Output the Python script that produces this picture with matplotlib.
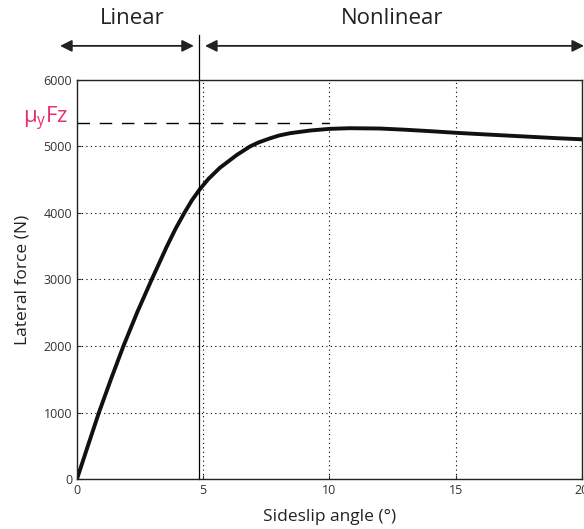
import numpy as np
import matplotlib
matplotlib.use("Agg")
import matplotlib.pyplot as plt

plt.rcParams['font.family'] = ['Open Sans', 'DejaVu Sans']
plt.rcParams['mathtext.fontset'] = 'custom'
plt.rcParams['mathtext.rm'] = 'Open Sans'
plt.rcParams['mathtext.it'] = 'Open Sans'

# curve
slip = [0, 0.40, 0.87, 1.35, 1.84, 2.40, 2.96, 3.55, 3.9, 4.25, 4.55, 4.85,
        5.2, 5.66, 6.32, 6.85, 7.2, 7.64, 8.0, 8.44, 9.23, 10.0, 10.8, 12,
        13, 14, 15, 16, 17, 18, 19, 20]
force = [0, 462, 1000, 1505, 2000, 2520, 3000, 3490, 3760, 4000, 4190, 4350,
         4510, 4680, 4870, 5000, 5062, 5122, 5165, 5200, 5240, 5265, 5275,
         5270, 5252, 5230, 5206, 5185, 5165, 5145, 5125, 5108]

mu_fz = 5357
limit = 4.85

fig = plt.figure(figsize=(5.84, 5.29), dpi=100)
ax = fig.add_axes([0.1318, 0.0945, 0.8648, 0.7543])

ax.plot(slip, force, color='#111111', lw=2.8, solid_capstyle='round',
        solid_joinstyle='round')

#mu*Fz level
ax.plot([0, 10], [mu_fz, mu_fz], color='black', lw=1, dashes=(9, 7))

#boundary between linear and nonlinear parts
ax.plot([limit, limit], [0, 6670], color='black', lw=0.9, clip_on=False)

ax.set_xlim(0, 20)
ax.set_ylim(0, 6000)
ax.set_xticks([0, 5, 10, 15, 20])
ax.set_yticks([0, 1000, 2000, 3000, 4000, 5000, 6000])
ax.grid(True, color='black', linestyle=(0, (1, 3)), lw=0.8)
ax.tick_params(direction='in', length=3, labelsize=9, colors='#333333')
for s in ax.spines.values():
    s.set_linewidth(1.0)
    s.set_color('#222222')

ax.set_xlabel('Sideslip angle (°)', fontsize=12.5, labelpad=9, color='#222222')
ax.set_ylabel('Lateral force (N)', fontsize=12.5, labelpad=9, color='#222222')

ax.text(-0.35, mu_fz + 60, r'$\mathrm{\mu_{y}Fz}$', color='#e8306a', fontsize=16,
        ha='right', va='center', clip_on=False)

#region arrows
arrow = dict(arrowstyle='<|-|>,head_width=0.35,head_length=0.7', color='#222222',
             lw=1.3, shrinkA=0, shrinkB=0)
ax.annotate('', xy=(-0.67, 6513), xytext=(4.63, 6513), arrowprops=arrow,
            annotation_clip=False)
ax.annotate('', xy=(5.07, 6513), xytext=(20.08, 6513), arrowprops=arrow,
            annotation_clip=False)
ax.text(2.2, 6920, 'Linear', fontsize=16, ha='center', va='center', color='#222222')
ax.text(12.5, 6920, 'Nonlinear', fontsize=16, ha='center', va='center', color='#222222')

fig.savefig('out.png', dpi=100)
